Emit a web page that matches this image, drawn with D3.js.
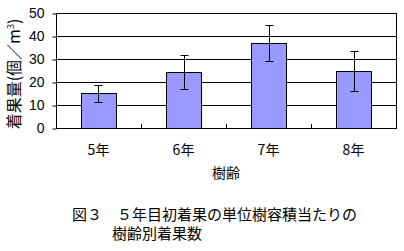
<!DOCTYPE html>
<html>
<head>
<meta charset="utf-8">
<script src="https://cdn.jsdelivr.net/npm/d3@7"></script>
<style>
  body { margin: 0; background: #fff; }
  text { font-family: "Noto Sans CJK JP", sans-serif; fill: #000; }
</style>
</head>
<body>
<svg width="404" height="251"></svg>
<script>
const categories = ["5年", "6年", "7年", "8年"];
const means = [15.2, 24.3, 37.0, 24.8];
const errLow = [11.2, 16.9, 29.0, 16.1];
const errHigh = [18.6, 31.7, 44.8, 33.4];
const yTicks = [0, 10, 20, 30, 40, 50];

const svg = d3.select("svg");

const plotLeft = 56, plotRight = 396, plotTop = 13, plotBottom = 128;

const x = d3.scaleBand()
	.domain(categories)
	.range([plotLeft, plotRight])
	.paddingInner(0.59)
	.paddingOuter(0.295);

const xCat = d3.scaleBand()
	.domain(categories)
	.range([plotLeft, plotRight]);

const y = d3.scaleLinear()
	.domain([0, 50])
	.range([plotBottom, plotTop]);

// gridlines
svg.append("g")
	.selectAll("line")
	.data(yTicks.slice(1))
	.join("line")
		.attr("x1", plotLeft)
		.attr("x2", plotRight)
		.attr("y1", d => Math.round(y(d)) + 0.5)
		.attr("y2", d => Math.round(y(d)) + 0.5)
		.attr("stroke", "#000");

// bars
svg.append("g")
	.selectAll("rect")
	.data(means)
	.join("rect")
		.attr("x", (d, i) => Math.round(x(categories[i])) + 0.5)
		.attr("y", d => Math.round(y(d)) + 0.5)
		.attr("width", Math.round(x.bandwidth()))
		.attr("height", d => Math.round(y(0)) - Math.round(y(d)))
		.attr("fill", "#9999ff")
		.attr("stroke", "#000");

// error bars
const eg = svg.append("g").attr("stroke", "#000");
categories.forEach((c, i) => {
	const cx = Math.round(x(c) + x.bandwidth() / 2) + 0.5;
	const yl = Math.round(y(errLow[i])) + 0.5;
	const yh = Math.round(y(errHigh[i])) + 0.5;
	eg.append("line").attr("x1", cx).attr("x2", cx).attr("y1", yh).attr("y2", yl);
	eg.append("line").attr("x1", cx - 4).attr("x2", cx + 4).attr("y1", yh).attr("y2", yh);
	eg.append("line").attr("x1", cx - 4).attr("x2", cx + 4).attr("y1", yl).attr("y2", yl);
});

// plot frame
svg.append("rect")
	.attr("x", plotLeft + 0.5)
	.attr("y", plotTop + 0.5)
	.attr("width", plotRight - plotLeft)
	.attr("height", plotBottom - plotTop)
	.attr("fill", "none")
	.attr("stroke", "#000");

// y axis
const yAxis = svg.append("g")
	.attr("transform", `translate(${plotLeft + 0.5},0.5)`)
	.call(d3.axisLeft(y).tickValues(yTicks).tickSize(4).tickPadding(8));
yAxis.select(".domain").remove();
yAxis.selectAll("line").attr("stroke", "#000");
yAxis.selectAll("text")
	.style("font-size", "14px")
	.style("font-family", "Liberation Sans, Arial, sans-serif");

// x axis (inner ticks at category boundaries)
svg.append("g")
	.selectAll("line")
	.data(categories.slice(1))
	.join("line")
		.attr("x1", d => Math.round(xCat(d)) + 0.5)
		.attr("x2", d => Math.round(xCat(d)) + 0.5)
		.attr("y1", plotBottom)
		.attr("y2", plotBottom - 4)
		.attr("stroke", "#000");

svg.append("g")
	.selectAll("text")
	.data(categories)
	.join("text")
		.attr("x", d => xCat(d) + xCat.bandwidth() / 2)
		.attr("y", 155)
		.attr("text-anchor", "middle")
		.style("font-size", "14px")
		.text(d => d);

svg.append("text")
	.attr("x", (plotLeft + plotRight) / 2)
	.attr("y", 178)
	.attr("text-anchor", "middle")
	.style("font-size", "14px")
	.text("樹齢");

// y title (opacity just below 1 keeps the rotated glyphs grey-scale)
const yt = svg.append("text")
	.attr("transform", "translate(20,74) rotate(-90)")
	.attr("text-anchor", "middle")
	.attr("opacity", 0.99)
	.style("font-size", "16px");
yt.append("tspan").text("着果量(個／m");
yt.append("tspan").attr("dy", -6).style("font-size", "9px").text("3");
yt.append("tspan").attr("dy", 6).text(")");

// caption
svg.append("text")
	.attr("x", 72)
	.attr("y", 220)
	.style("font-size", "15px")
	.text("図３　５年目初着果の単位樹容積当たりの");
svg.append("text")
	.attr("x", 112)
	.attr("y", 239)
	.style("font-size", "15px")
	.text("樹齢別着果数");
</script>
</body>
</html>
